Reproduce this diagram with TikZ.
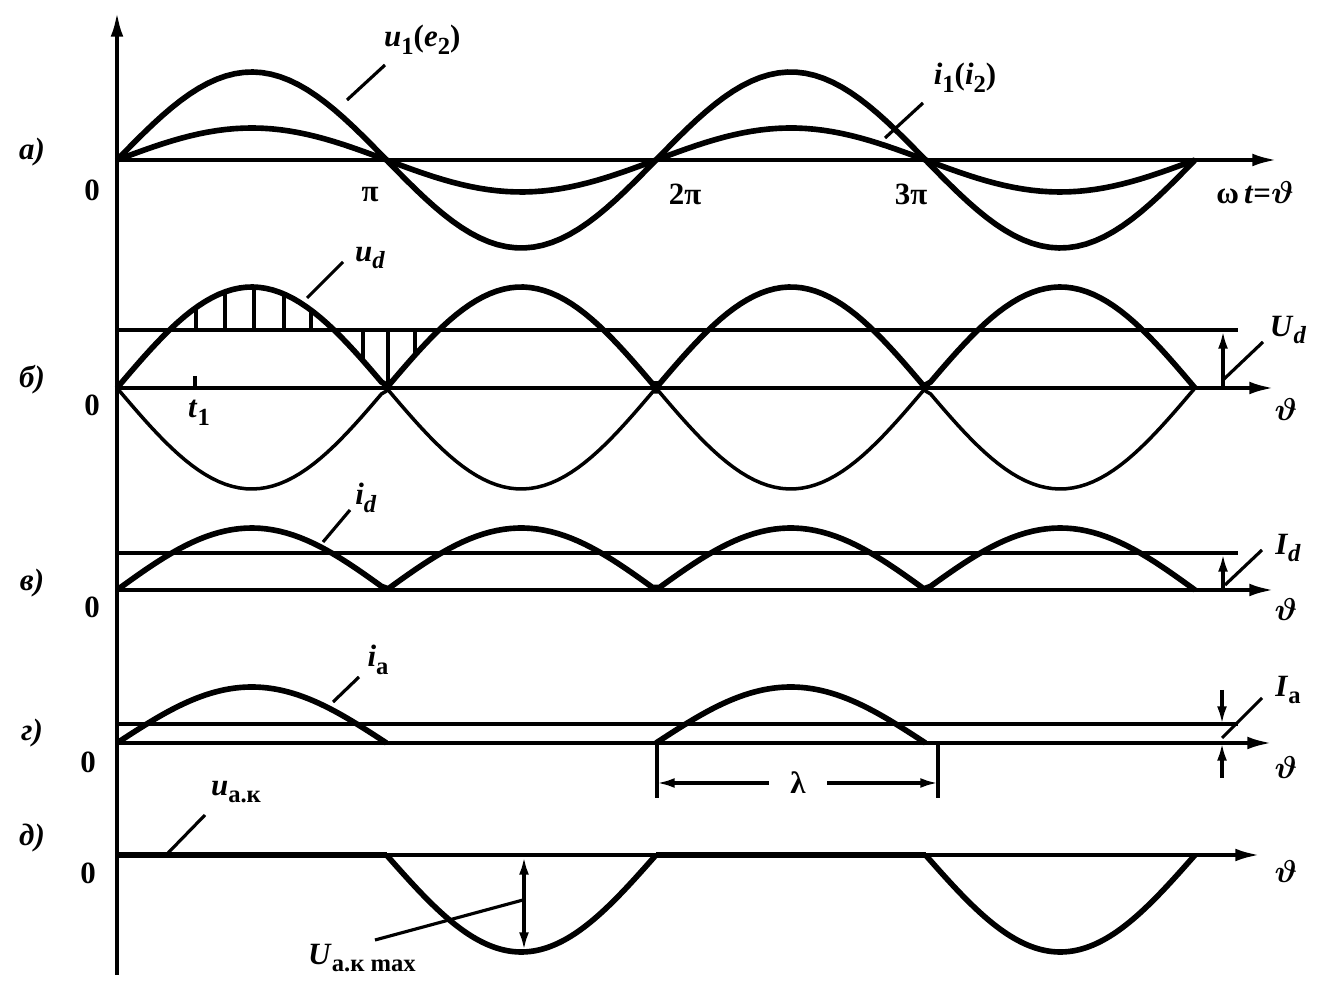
\documentclass[tikz,border=0pt]{standalone}
\usepackage{fontspec}
\usepackage{amsmath}
\setmainfont{Liberation Serif}
\usetikzlibrary{arrows.meta}

\newcommand{\sbs}[1]{\raisebox{-0.55ex}{\fontsize{7}{8}\selectfont #1}}

\tikzset{
  axis/.style={line width=1.1pt},
  curve/.style={line width=1.6pt},
  thinline/.style={line width=0.9pt},
  lbl/.style={font=\fontsize{8.8}{10}\selectfont\bfseries\boldmath, inner sep=1pt},
  bigtip/.style={-{Latex[length=7pt,width=3.6pt]}},
  smalltip/.style={-{Latex[length=5pt,width=2.8pt]}},
  dimtip/.style={{Latex[length=5pt,width=2.8pt]}-{Latex[length=5pt,width=2.8pt]}},
}

\begin{document}
\begin{tikzpicture}[x=0.01cm,y=-0.01cm]
\useasboundingbox (0,0) rectangle (1321,992);

% vertical axis
\coordinate (vbot) at (117,975);
\coordinate (vtop) at (117,12);
\draw[axis,bigtip] (vbot) -- (vtop);

% a)
\coordinate (a0) at (117,160);
\coordinate (a1) at (1277,160);
\draw[axis,bigtip] (a0) -- (a1);
\draw[curve] plot[domain=117:1195,samples=120] (\x,{160-88*sin((\x-117)/269.5*180)});
\draw[curve] plot[domain=117:1195,samples=120] (\x,{160-32*sin((\x-117)/269.5*180)});
\node[lbl] (la) at (32,152) {\textit{а)}};
\node[lbl] (za) at (92,190) {0};
\node[lbl] (pi1) at (370,195) {π};
\node[lbl] (pi2) at (685,194) {2π};
\node[lbl] (pi3) at (911,194) {3π};
\node[lbl] (wt) at (1255,193) {ω\,\textit{t}=$\vartheta$};
\node[lbl,anchor=west] (u1) at (380,40) {\textit{u}\sbs{1}(\textit{e}\sbs{2})};
\node[lbl] (i1) at (965,78) {\textit{i}\sbs{1}(\textit{i}\sbs{2})};
\coordinate (u1p) at (347,100);
\coordinate (u1e) at (385,65);
\coordinate (i1p) at (885,138);
\coordinate (i1e) at (923,103);
\draw[thinline] (u1p) -- (u1e);
\draw[thinline] (i1p) -- (i1e);

% b)
\coordinate (b0) at (117,388);
\coordinate (b1) at (1274,388);
\draw[axis,bigtip] (b0) -- (b1);
\coordinate (ud0) at (117,330);
\coordinate (ud1) at (1238,330);
\draw[thinline] (ud0) -- (ud1);
\draw[curve] plot[domain=117:1195,samples=160] (\x,{388-101*abs(sin((\x-117)/269.5*180))});
\draw[line width=1pt] plot[domain=117:1195,samples=160] (\x,{388+101*abs(sin((\x-117)/269.5*180))});
\foreach \h in {196,225,254,284,311,363,388,415}
  \draw[thinline] (\h,330) -- (\h,{388-101*abs(sin((\h-117)/269.5*180))});
\draw[thinline] (195,376) -- (195,388);
\node[lbl] (lb) at (32,380) {\textit{б)}};
\node[lbl] (zb) at (92,405) {0};
\node[lbl] (t1) at (199,413) {\textit{t}\sbs{1}};
\node[lbl] (thb) at (1286,410) {$\vartheta$};
\node[lbl] (ud) at (370,258) {\textit{u}\sbs{\textit{d}}};
\node[lbl] (Ud) at (1288,330) {\textit{U}\sbs{\textit{d}}};
\coordinate (udp) at (307,298);
\coordinate (ude) at (343,262);
\draw[thinline] (udp) -- (ude);
\coordinate (Uda) at (1223,388);
\coordinate (Udb) at (1223,331);
\draw[thinline,smalltip] (Uda) -- (Udb);
\coordinate (Udp) at (1223,380);
\coordinate (Ude) at (1263,342);
\draw[thinline] (Udp) -- (Ude);

% v)
\coordinate (c0) at (117,590);
\coordinate (c1) at (1274,590);
\draw[axis,bigtip] (c0) -- (c1);
\coordinate (id0) at (117,553);
\coordinate (id1) at (1238,553);
\draw[thinline] (id0) -- (id1);
\draw[curve] plot[domain=117:1195,samples=160] (\x,{590-62*abs(sin((\x-117)/269.5*180))});
\node[lbl] (lc) at (32,583) {\textit{в)}};
\node[lbl] (zc) at (92,607) {0};
\node[lbl] (thc) at (1286,610) {$\vartheta$};
\node[lbl] (id) at (366,498) {\textit{i}\sbs{\textit{d}}};
\node[lbl] (Id) at (1288,548) {\textit{I}\sbs{\textit{d}}};
\coordinate (idp) at (323,542);
\coordinate (ide) at (350,510);
\draw[thinline] (idp) -- (ide);
\coordinate (Ida) at (1223,590);
\coordinate (Idb) at (1223,554);
\draw[thinline,smalltip] (Ida) -- (Idb);
\coordinate (Idp) at (1225,585);
\coordinate (Ide) at (1262,550);
\draw[thinline] (Idp) -- (Ide);

% g)
\coordinate (d0) at (117,743);
\coordinate (d1) at (1272,743);
\draw[axis,bigtip] (d0) -- (d1);
\coordinate (ia0) at (117,724);
\coordinate (ia1) at (1238,724);
\draw[thinline] (ia0) -- (ia1);
\draw[curve] plot[domain=117:386.5,samples=80] (\x,{743-56*sin((\x-117)/269.5*180)});
\draw[curve] plot[domain=656:925.5,samples=80] (\x,{743-56*sin((\x-117)/269.5*180)});
\node[lbl] (ld) at (32,733) {\textit{г)}};
\node[lbl] (zd) at (88,762) {0};
\node[lbl] (thd) at (1286,768) {$\vartheta$};
\node[lbl] (ia) at (378,660) {\textit{i}\sbs{а}};
\node[lbl] (Ia) at (1288,690) {\textit{I}\sbs{а}};
\coordinate (iap) at (333,702);
\coordinate (iae) at (359,677);
\draw[thinline] (iap) -- (iae);
\coordinate (Iat) at (1222,690);
\coordinate (Iab) at (1222,778);
\coordinate (Iat1) at (1222,724);
\coordinate (Iab1) at (1222,743);
\draw[thinline,smalltip] (Iat) -- (Iat1);
\draw[thinline,smalltip] (Iab) -- (Iab1);
\coordinate (Iap) at (1222,738);
\coordinate (Iae) at (1262,698);
\draw[thinline] (Iap) -- (Iae);
% lambda
\coordinate (lamL0) at (657,745);
\coordinate (lamL1) at (657,798);
\coordinate (lamR0) at (938,745);
\coordinate (lamR1) at (938,798);
\draw[thinline] (lamL0) -- (lamL1);
\draw[thinline] (lamR0) -- (lamR1);
\node[lbl,inner sep=6pt] (lam) at (798,783) {λ};
\coordinate (lamL) at (657,783);
\coordinate (lamR) at (938,783);
\draw[thinline,smalltip] (lam) -- (lamL);
\draw[thinline,smalltip] (lam) -- (lamR);

% d)
\coordinate (e0) at (117,855);
\coordinate (e1) at (1260,855);
\draw[axis,bigtip] (e0) -- (e1);
\draw[curve] (117,855) -- (386.5,855);
\draw[curve] (656,855) -- (925.5,855);
\draw[curve] plot[domain=386.5:656,samples=80] (\x,{855-97*sin((\x-117)/269.5*180)});
\draw[curve] plot[domain=925.5:1195,samples=80] (\x,{855-97*sin((\x-117)/269.5*180)});
\node[lbl] (le) at (32,838) {\textit{д)}};
\node[lbl] (ze) at (88,873) {0};
\node[lbl] (the) at (1286,872) {$\vartheta$};
\node[lbl] (uak) at (236,792) {\textit{u}\sbs{а.к}};
\node[lbl] (Uak) at (362,958) {\textit{U}\sbs{а.к max}};
\coordinate (uakp) at (168,853);
\coordinate (uake) at (205,815);
\draw[thinline] (uakp) -- (uake);
\coordinate (Um0) at (524,857);
\coordinate (Um1) at (524,950);
\draw[thinline,dimtip] (Um0) -- (Um1);
\coordinate (Ump) at (523,900);
\coordinate (Ume) at (375,940);
\draw[thinline] (Ump) -- (Ume);
\end{tikzpicture}
\end{document}
